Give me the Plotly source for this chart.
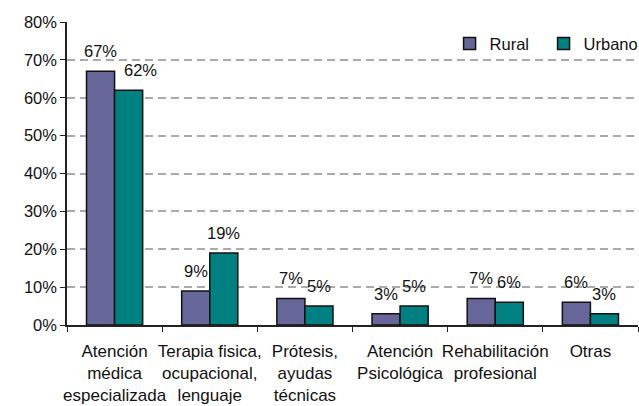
import plotly.graph_objects as go

categories = [
    "Atención<br>médica<br>especializada",
    "Terapia fisica,<br>ocupacional,<br>lenguaje",
    "Prótesis,<br>ayudas<br>técnicas",
    "Atención<br>Psicológica",
    "Rehabilitación<br>profesional",
    "Otras",
]
rural = [67, 9, 7, 3, 7, 6]
urbano = [62, 19, 5, 5, 6, 3]
y_ticks = [0, 10, 20, 30, 40, 50, 60, 70, 80]
y_tick_labels = ["0%", "10%", "20%", "30%", "40%", "50%", "60%", "70%", "80%"]

FONT = "Liberation Sans, Arial, sans-serif"
RURAL_COLOR = "#666699"
URBANO_COLOR = "#008080"

fig = go.Figure()
fig.add_trace(go.Bar(name="Rural", x=categories, y=rural,
                     marker=dict(color=RURAL_COLOR, line=dict(color="#111111", width=1.5))))
fig.add_trace(go.Bar(name="Urbano", x=categories, y=urbano,
                     marker=dict(color=URBANO_COLOR, line=dict(color="#111111", width=1.5))))

# value labels placed above each bar
annotations = []
for i, cat in enumerate(categories):
    for vals, side in ((rural, -1), (urbano, 1)):
        xshift = side * 14
        if i == 0 and side == 1:
            xshift += 12  # keep the two tall labels apart
        annotations.append(dict(
            x=cat, y=vals[i], xref="x", yref="y",
            text=f"{vals[i]}%", showarrow=False,
            xshift=xshift, yshift=20, yanchor="middle",
            font=dict(family=FONT, size=16.5, color="#111111"),
        ))

fig.update_layout(
    width=639, height=406,
    margin=dict(l=67, r=1, t=22, b=79),
    paper_bgcolor="white", plot_bgcolor="rgba(0,0,0,0)",
    barmode="group", bargap=0.41, bargroupgap=0,
    font=dict(family=FONT, size=16.5, color="#111111"),
    showlegend=True,
    legend=dict(orientation="h", x=0.67, y=0.928, xanchor="left", yanchor="middle",
                font=dict(family=FONT, size=16.5, color="#111111"),
                bgcolor="rgba(0,0,0,0)", itemwidth=30, entrywidth=49,
                tracegroupgap=0),
    annotations=annotations,
)
fig.update_xaxes(
    showline=True, linecolor="#222222", linewidth=1.5,
    ticks="outside", tickson="boundaries", ticklen=5, tickcolor="#222222",
    tickangle=0, ticklabelstandoff=10,
    tickfont=dict(family=FONT, size=17, color="#111111"),
    showgrid=False,
)
fig.update_yaxes(
    range=[0, 80], tickmode="array", tickvals=y_ticks, ticktext=y_tick_labels,
    showline=True, linecolor="#222222", linewidth=1.5,
    ticks="outside", ticklen=5, tickcolor="#222222",
    tickfont=dict(family=FONT, size=16.5, color="#111111"),
    showgrid=True, gridcolor="#aaaaaa", gridwidth=1.5, griddash="8px,5px",
    zeroline=False,
)

fig.write_html("out.html")
